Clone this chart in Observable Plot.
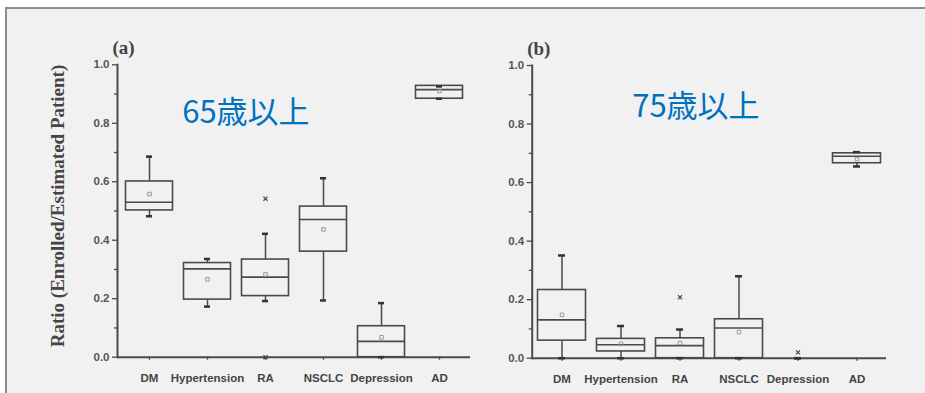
<!DOCTYPE html>
<html><head><meta charset="utf-8">
<script src="https://cdn.jsdelivr.net/npm/d3@7"></script>
<script src="https://cdn.jsdelivr.net/npm/@observablehq/plot@0.6"></script>
<style>
body{margin:0;background:#fff;}
#wrap{position:relative;width:925px;height:393px;overflow:hidden;}
#frame{position:absolute;left:5px;top:7px;width:940px;height:400px;border-left:2px solid #8c8c8c;border-top:2px solid #8c8c8c;background:#f1f1f1;}
#pa{position:absolute;left:0;top:0}
#pb{position:absolute;left:475px;top:0}
</style></head><body><div id="wrap"><div id="frame"></div><div id="pa"></div><div id="pb"></div></div>
<script>
const categories = ["DM","Hypertension","RA","NSCLC","Depression","AD"];
const yTicks = [0, 0.2, 0.4, 0.6, 0.8, 1.0];
const yMinorTicks = [0.1, 0.3, 0.5, 0.7, 0.9];
const yTitle = "Ratio (Enrolled/Estimated Patient)";

// Panel (a): 65歳以上
const aTag = "(a)";
const aLabel = "65歳以上";
const aMin  = [0.482, 0.173, 0.192, 0.194, 0.000, 0.884];
const aQ1   = [0.502, 0.197, 0.209, 0.361, 0.000, 0.884];
const aMed  = [0.530, 0.302, 0.274, 0.471, 0.054, 0.915];
const aQ3   = [0.601, 0.322, 0.334, 0.515, 0.106, 0.928];
const aMax  = [0.686, 0.336, 0.422, 0.612, 0.185, 0.926];
const aMean = [0.558, 0.266, 0.283, 0.437, 0.068, 0.910];
const aOutCat = ["RA", "RA"];
const aOutVal = [0.542, 0.000];

// Panel (b): 75歳以上
const bTag = "(b)";
const bLabel = "75歳以上";
const bMin  = [0.000, 0.000, 0.000, 0.000, 0.000, 0.655];
const bQ1   = [0.060, 0.023, 0.000, 0.000, null, 0.666];
const bMed  = [0.131, 0.046, 0.043, 0.103, null, 0.690];
const bQ3   = [0.233, 0.066, 0.068, 0.133, null, 0.700];
const bMax  = [0.351, 0.110, 0.098, 0.280, 0.000, 0.704];
const bMean = [0.148, 0.049, 0.052, 0.089, null, 0.680];
const bOutCat = ["RA", "Depression"];
const bOutVal = [0.208, 0.020];

const ink = "#4a4a4a";

function panel(o) {
  const rows = categories.map((c, i) => ({c, min: o.min[i], q1: o.q1[i], med: o.med[i], q3: o.q3[i], max: o.max[i], mean: o.mean[i]}));
  const boxes = rows.filter(d => d.q3 != null);
  const outs = o.outCat.map((c, i) => ({c, v: o.outVal[i]}));
  const marks = [
    Plot.axisY({ticks: yMinorTicks, tickSize: 3, text: null, label: null, stroke: ink, strokeWidth: 1.3}),
    Plot.axisY({ticks: yTicks, tickSize: 5, tickPadding: 3, tickFormat: d => d.toFixed(1), label: null,
                fontSize: 11.5, fontWeight: "bold", fill: "#555", stroke: ink, strokeWidth: 1.3}),
    Plot.axisX({tickSize: 3, tickPadding: 14, label: null, fontSize: 11.5, fontWeight: "bold", fill: "#444", stroke: ink, strokeWidth: 1.3}),
    Plot.frame({anchor: "left", stroke: ink, strokeWidth: 2}),
    Plot.ruleY([0], {stroke: ink, strokeWidth: 2}),
    Plot.ruleX(boxes, {x: "c", y1: "q3", y2: "max", stroke: ink, strokeWidth: 1.5}),
    Plot.ruleX(boxes, {x: "c", y1: "min", y2: "q1", stroke: ink, strokeWidth: 1.5}),
    Plot.barY(boxes, {x: "c", y1: "q1", y2: "q3", fill: "none", stroke: ink, strokeWidth: 1.6, insetLeft: 5.5, insetRight: 5.5}),
    Plot.tickY(boxes, {x: "c", y: "med", stroke: ink, strokeWidth: 1.6, insetLeft: 5.5, insetRight: 5.5}),
    Plot.tickY(rows, {x: "c", y: "max", stroke: "#333", strokeWidth: 2.5, insetLeft: 26, insetRight: 26}),
    Plot.tickY(rows, {x: "c", y: "min", stroke: "#333", strokeWidth: 2.5, insetLeft: 26, insetRight: 26}),
    Plot.dot(rows.filter(d => d.mean != null), {x: "c", y: "mean", symbol: "square", r: 2, stroke: "#999", fill: "none", strokeWidth: 1}),
    Plot.dot(outs, {x: "c", y: "v", symbol: "times", r: 2, stroke: "#444", strokeWidth: 1.2}),
    Plot.text([o.tag], {frameAnchor: "top-left", textAnchor: "start", dx: o.tagDx, dy: -24, fontSize: 19, fontFamily: "Liberation Serif, serif", fontWeight: "bold", fill: "#444"}),
    Plot.text([o.label], {frameAnchor: "top-left", textAnchor: "start", dx: o.labelDx, dy: o.labelDy, fontSize: 31, fontFamily: "Noto Sans CJK JP, sans-serif", fill: "#0070C0"})
  ];
  if (o.showTitle) {
    marks.push(Plot.text([yTitle], {frameAnchor: "left", textAnchor: "middle", rotate: -90, dx: -60, dy: -5, fontSize: 19, fontFamily: "Liberation Serif, serif", fontWeight: "bold", fill: "#444"}));
  }
  return Plot.plot({
    width: o.width, height: 393,
    marginLeft: o.marginLeft, marginRight: o.marginRight, marginTop: o.marginTop, marginBottom: o.marginBottom,
    style: {background: "transparent", fontFamily: "Liberation Sans, Arial, sans-serif", overflow: "visible"},
    x: {type: "band", domain: categories, paddingInner: 0, paddingOuter: 0, axis: null},
    y: {domain: [0, 1], axis: null},
    marks
  });
}

document.getElementById("pa").append(panel({
  min: aMin, q1: aQ1, med: aMed, q3: aQ3, max: aMax, mean: aMean, outCat: aOutCat, outVal: aOutVal,
  tag: aTag, label: aLabel, tagDx: -5, labelDx: 64.7, labelDy: 36, showTitle: true,
  width: 475, marginLeft: 117, marginRight: 5, marginTop: 64.3, marginBottom: 36.3
}));
document.getElementById("pb").append(panel({
  min: bMin, q1: bQ1, med: bMed, q3: bQ3, max: bMax, mean: bMean, outCat: bOutCat, outVal: bOutVal,
  tag: bTag, label: bLabel, tagDx: -5, labelDx: 100, labelDy: 29, showTitle: false,
  width: 450, marginLeft: 56.7, marginRight: 39, marginTop: 65, marginBottom: 35.3
}));
</script></body></html>
